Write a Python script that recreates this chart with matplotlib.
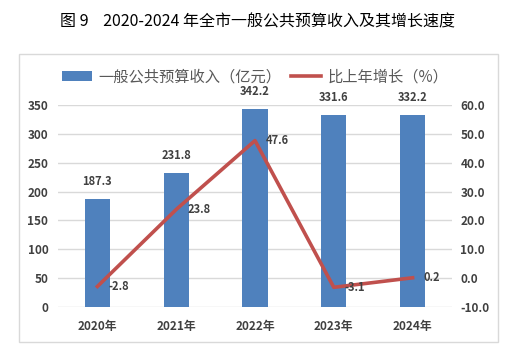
import matplotlib
matplotlib.use("Agg")
import matplotlib.pyplot as plt
from matplotlib.patches import Rectangle
from matplotlib.lines import Line2D
from matplotlib.patches import Patch
import numpy as np

plt.rcParams['font.family'] = ['Noto Sans CJK SC', 'DejaVu Sans']

years = ["2020年", "2021年", "2022年", "2023年", "2024年"]
revenue = [187.3, 231.8, 342.2, 331.6, 332.2]
growth = [-2.8, 23.8, 47.6, -3.1, 0.2]
left_ticks = [0, 50, 100, 150, 200, 250, 300, 350]
right_ticks = [-10, 0, 10, 20, 30, 40, 50, 60]

BAR = "#4F81BD"
LINE = "#C0504D"
TXT = "#404040"

fig = plt.figure(figsize=(5.18, 3.52), dpi=100)
fig.patches.append(Rectangle((19/518, 1-342/352), (498-19)/518, (342-54)/352,
                             transform=fig.transFigure, fill=False,
                             edgecolor="#D9D9D9", linewidth=1))
fig.text(258/518, 1-22/352, "图 9    2020-2024 年全市一般公共预算收入及其增长速度",
         ha="center", va="center", fontsize=11.5, color="black")

ax = fig.add_axes([58/518, 1-307.3/352, (452-58)/518, (307.3-104.7)/352])
x = np.arange(len(years))
bars = ax.bar(x, revenue, width=0.32, color=BAR, zorder=2)
ax.set_xlim(-0.5, 4.5)
ax.set_ylim(0, 350)
ax.set_yticks(left_ticks)
ax.set_yticklabels([str(t) for t in left_ticks])
ax.set_xticks(x)
ax.set_xticklabels(years)
for s in ax.spines.values():
    s.set_visible(False)
ax.grid(axis="y", color="#D9D9D9", linewidth=1, zorder=0)
ax.tick_params(axis="both", length=0, labelsize=8.5, labelcolor=TXT)
ax.tick_params(axis="y", pad=7)
ax.tick_params(axis="x", pad=9)
for lab in ax.get_xticklabels() + ax.get_yticklabels():
    lab.set_fontweight("bold")
for xi, v in zip(x, revenue):
    ax.annotate(f"{v:.1f}", (xi, v), xytext=(0, 8), textcoords="offset points",
                ha="center", va="bottom", fontsize=8, fontweight="bold", color=TXT)

ax2 = ax.twinx()
ax2.set_ylim(-10, 60)
ax2.set_yticks(right_ticks)
ax2.set_yticklabels([f"{t:.1f}" for t in right_ticks])
for s in ax2.spines.values():
    s.set_visible(False)
ax2.tick_params(axis="y", length=0, labelsize=8.5, labelcolor=TXT, pad=6)
for lab in ax2.get_yticklabels():
    lab.set_fontweight("bold")
ax2.plot(x, growth, color=LINE, linewidth=2.6, zorder=3)
for xi, v in zip(x, growth):
    ax2.annotate(f"{v:.1f}", (xi, v), xytext=(8, 0), textcoords="offset points",
                 ha="left", va="center", fontsize=8, fontweight="bold", color=TXT)

handles = [Patch(facecolor=BAR), Line2D([0], [0], color=LINE, linewidth=2.6)]
fig.legend(handles, ["一般公共预算收入（亿元）", "比上年增长（%）"],
           loc="center", bbox_to_anchor=(255/518, 1-77/352), ncol=2, frameon=False,
           fontsize=11, labelcolor="#595959", handlelength=2.0, handletextpad=0.4,
           columnspacing=0.6, handleheight=0.6)

fig.savefig("out.png", dpi=100)
